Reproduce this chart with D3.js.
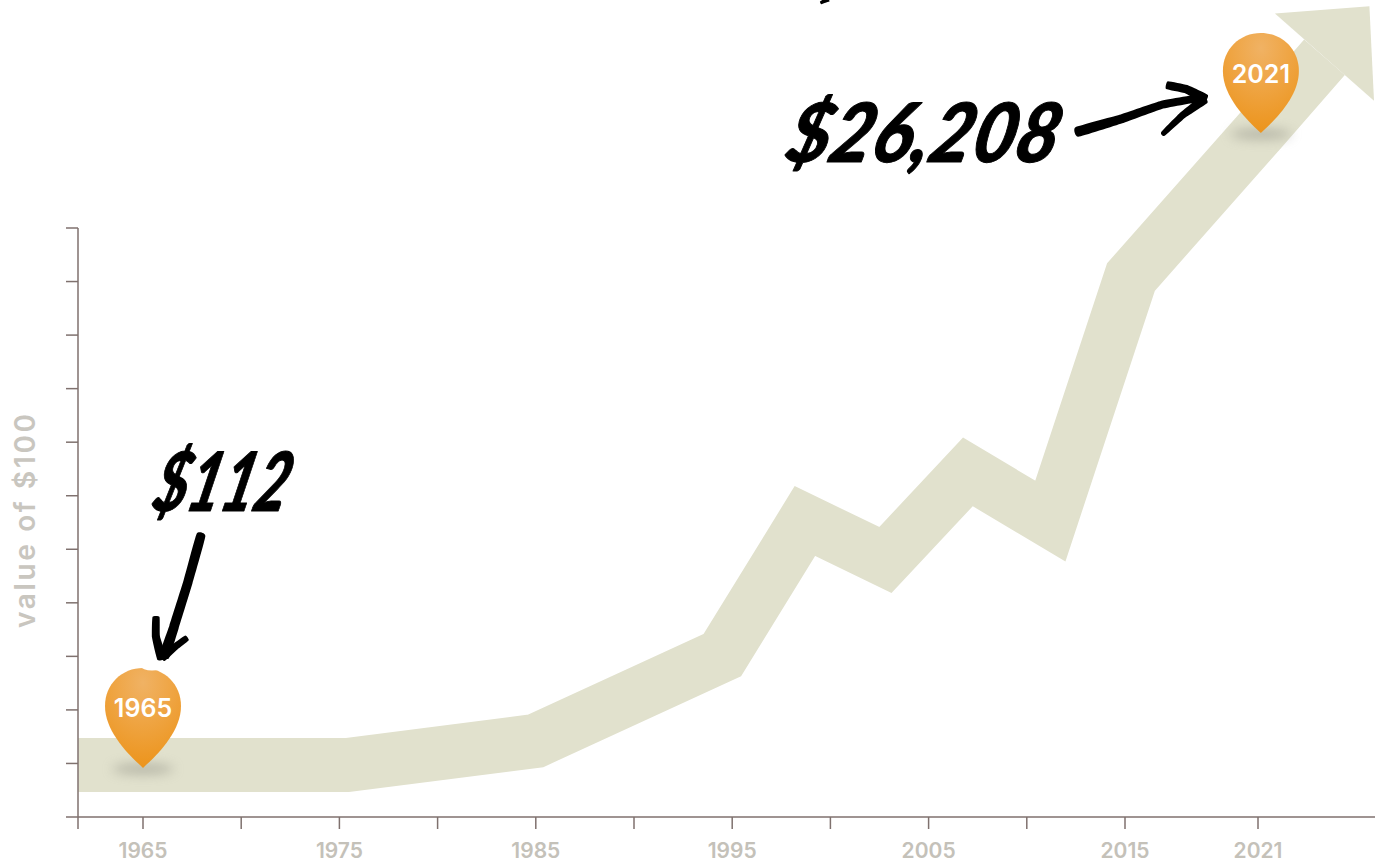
<!DOCTYPE html>
<html>
<head>
<meta charset="utf-8">
<style>
  html, body { margin: 0; padding: 0; background: #fff; overflow: hidden; }
  svg { display: block; }
  .tick-label { font-family: Inter, sans-serif; font-weight: 600; font-size: 21px; fill: #c4c1b9; }
  .axis-title { font-family: Inter, sans-serif; font-weight: 600; font-size: 28px; fill: #c9c6bf; }
  .pin-label { font-family: Inter, sans-serif; font-weight: 600; font-size: 25px; fill: #fff; text-anchor: middle; }
  .callout { font-family: Lato, sans-serif; font-weight: 900; font-style: italic; fill: #000; stroke: #000; stroke-linejoin: round; }
</style>
</head>
<body>
<script src="https://cdn.jsdelivr.net/npm/d3@7/dist/d3.min.js"></script>
<script>
// Growth of $100 invested: years and dollar values along the trend arrow
const years = [1961.7, 1965, 1975.4, 1985, 1994.5, 1998.7, 2002.8, 2007, 2011.2, 2015.27, 2021.13, 2024];
const values = [112, 112, 112, 137.7, 288, 911, 652, 1389, 911, 7414, 26208, 49000];

// Axis ticks
const tickYears = [1965, 1970, 1975, 1980, 1985, 1990, 1995, 2000, 2005, 2010, 2015, 2021];
const labelledYears = [1965, 1975, 1985, 1995, 2005, 2015, 2021];
const valueTickCount = 12;

// Pins and handwritten call-outs
const pinYears = [1965, 2021.13];
const pinValues = [112, 26208];
const pinLabels = ["1965", "2021"];
const calloutTexts = ["$112", "$26,208"];
const yAxisTitle = "value of $100";

const width = 1388, height = 867;
const bandWidth = 54, headHalf = 66, headLength = 68;

const x = d3.scaleLinear()
  .domain([1961.69, 1965, 2015, 2021, 2026.28])
  .range([78, 143, 1125, 1258, 1375]);
const y = d3.scaleLog().domain([71.6, 11296]).range([817, 228]);

const svg = d3.select("body").append("svg")
  .attr("width", width).attr("height", height);

const defs = svg.append("defs");
const grad = defs.append("radialGradient").attr("id", "pinFill")
  .attr("gradientUnits", "objectBoundingBox")
  .attr("cx", 0.5).attr("cy", 0.15).attr("r", 0.85);
grad.append("stop").attr("offset", 0).attr("stop-color", "#f0b264");
grad.append("stop").attr("offset", 0.45).attr("stop-color", "#efa544");
grad.append("stop").attr("offset", 1).attr("stop-color", "#ec941c");
defs.append("filter").attr("id", "pinShadow")
  .attr("x", "-50%").attr("y", "-200%").attr("width", "200%").attr("height", "500%")
  .append("feGaussianBlur").attr("stdDeviation", 6);
defs.append("filter").attr("id", "inkSoft")
  .append("feGaussianBlur").attr("stdDeviation", 0.6);

// Trend band with an arrowhead at its last point
const pts = years.map((yr, i) => [x(yr), y(values[i])]);
const line = d3.line();
svg.append("path")
  .attr("d", line(pts))
  .attr("fill", "none")
  .attr("stroke", "#e1e1cd")
  .attr("stroke-width", bandWidth)
  .attr("stroke-linejoin", "miter")
  .attr("stroke-miterlimit", 10);

const end = pts[pts.length - 1], prev = pts[pts.length - 3];
const len = Math.hypot(end[0] - prev[0], end[1] - prev[1]);
const ux = (end[0] - prev[0]) / len, uy = (end[1] - prev[1]) / len;
const nx = -uy, ny = ux;
svg.append("path")
  .attr("d", line([
    [end[0] - nx * headHalf, end[1] - ny * headHalf],
    [end[0] + ux * headLength, end[1] + uy * headLength],
    [end[0] + nx * headHalf, end[1] + ny * headHalf]
  ]) + "Z")
  .attr("fill", "#e1e1cd");

// Axes
const axisColor = "#7f716e";
const xAxis = svg.append("g")
  .attr("transform", `translate(0,${y.range()[0]})`)
  .call(d3.axisBottom(x)
    .offset(0)
    .tickValues([x.domain()[0], ...tickYears])
    .tickSize(12)
    .tickSizeOuter(0)
    .tickFormat(d => labelledYears.includes(d) ? String(d) : ""));
xAxis.selectAll(".domain").attr("stroke", axisColor).attr("stroke-width", 1.5);
xAxis.selectAll(".tick line").attr("stroke", axisColor).attr("stroke-width", 1.5);
xAxis.selectAll(".tick text").attr("class", "tick-label").attr("y", 26).attr("dy", "0.71em");

const valueTicks = d3.range(valueTickCount).map(i =>
  y.invert(y.range()[0] + (y.range()[1] - y.range()[0]) * i / (valueTickCount - 1)));
const yAxis = svg.append("g")
  .attr("transform", `translate(${x.range()[0]},0)`)
  .call(d3.axisLeft(y)
    .offset(0)
    .tickValues(valueTicks)
    .tickSize(12)
    .tickSizeOuter(0)
    .tickFormat(""));
yAxis.selectAll(".domain").attr("stroke", axisColor).attr("stroke-width", 1.5);
yAxis.selectAll(".tick line").attr("stroke", axisColor).attr("stroke-width", 1.5);

svg.append("text")
  .attr("class", "axis-title")
  .attr("transform", "translate(35,521) rotate(-90)")
  .attr("text-anchor", "middle")
  .attr("textLength", 214).attr("lengthAdjust", "spacing")
  .text(yAxisTitle);

// Map pins: teardrop with a soft ground shadow, tip resting on the value
pinYears.forEach((yr, i) => {
  const px = x(yr), py = y(pinValues[i]) + 3;
  const g = svg.append("g").attr("transform", `translate(${px},${py})`);
  g.append("ellipse")
    .attr("cx", 0).attr("cy", 1).attr("rx", 31).attr("ry", 5)
    .attr("fill", "#85857a").attr("opacity", 0.5)
    .attr("filter", "url(#pinShadow)");
  const p = d3.path();
  p.moveTo(0, 0);
  p.bezierCurveTo(-14, -13, -38, -36, -38, -62);
  p.bezierCurveTo(-38, -84, -21, -100, 0, -100);
  p.bezierCurveTo(21, -100, 38, -84, 38, -62);
  p.bezierCurveTo(38, -36, 14, -13, 0, 0);
  p.closePath();
  g.append("path").attr("d", p.toString()).attr("fill", "url(#pinFill)");
  g.append("text").attr("class", "pin-label")
    .attr("x", 0).attr("y", -50.5).text(pinLabels[i]);
});

// Brush stroke: a filled ribbon whose width runs from w0 to w1 along the path
function brush(group, points, w0, w1) {
  const n = points.length - 1;
  const side = (sign) => points.map((pt, i) => {
    const a = points[Math.max(i - 1, 0)], b = points[Math.min(i + 1, n)];
    const l = Math.hypot(b[0] - a[0], b[1] - a[1]);
    const w = (w0 + (w1 - w0) * i / n) / 2;
    return [pt[0] - sign * (b[1] - a[1]) / l * w, pt[1] + sign * (b[0] - a[0]) / l * w];
  });
  const outline = [...side(1), ...side(-1).reverse()];
  group.append("path").attr("d", d3.line().curve(d3.curveCardinalClosed.tension(0.6))(outline));
}
const p0 = [x(pinYears[0]), y(pinValues[0])];
const p1 = [x(pinYears[1]), y(pinValues[1])];

// White halo of the ink stroke nicks the top of the 1965 pin
svg.append("ellipse")
  .attr("cx", p0[0] + 9).attr("cy", p0[1] - 98.5).attr("rx", 11).attr("ry", 4).attr("fill", "#fff");

const ink = svg.append("g").attr("fill", "#050505").attr("filter", "url(#inkSoft)");

// Pointer down to the 1965 pin
brush(ink, [[p0[0] + 58, p0[1] - 230], [p0[0] + 45, p0[1] - 183], [p0[0] + 31, p0[1] - 138], [p0[0] + 21, p0[1] - 108]], 9, 10);
brush(ink, [[p0[0] + 13, p0[1] - 148], [p0[0] + 13, p0[1] - 128], [p0[0] + 19, p0[1] - 106]], 7, 9);
brush(ink, [[p0[0] + 19, p0[1] - 107], [p0[0] + 32, p0[1] - 118], [p0[0] + 44, p0[1] - 127]], 8, 6);

// Pointer across to the 2021 pin
brush(ink, [[p1[0] - 184, p1[1] + 2], [p1[0] - 140, p1[1] - 11], [p1[0] - 100, p1[1] - 25], [p1[0] - 56, p1[1] - 33]], 10, 7);
brush(ink, [[p1[0] - 94, p1[1] - 45], [p1[0] - 75, p1[1] - 41], [p1[0] - 55, p1[1] - 31]], 8, 9);
brush(ink, [[p1[0] - 56, p1[1] - 31], [p1[0] - 78, p1[1] - 15], [p1[0] - 98, p1[1] + 4]], 9, 5);

// Foot of a descender at the top edge of the page
brush(ink, [[x(1999.9), -1], [x(1999.7), 1], [x(1999.5), 3]], 5, 3);

// Call-out amounts, slanted like a brush script
svg.append("text").attr("class", "callout")
  .attr("transform", "translate(150,511) skewX(-14)")
  .attr("font-size", 82).attr("stroke-width", 1)
  .attr("textLength", 134).attr("lengthAdjust", "spacingAndGlyphs")
  .text(calloutTexts[0]);
svg.append("text").attr("class", "callout")
  .attr("transform", "translate(783,162) skewX(-14)")
  .attr("font-size", 82).attr("stroke-width", 1)
  .attr("textLength", 271).attr("lengthAdjust", "spacingAndGlyphs")
  .text(calloutTexts[1]);
</script>
</body>
</html>
